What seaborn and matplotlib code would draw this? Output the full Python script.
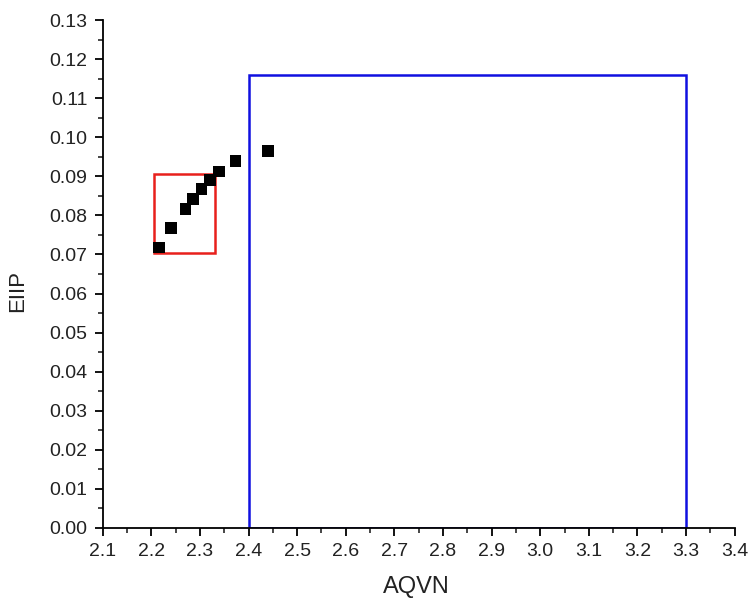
import numpy as np
import pandas as pd
import matplotlib
matplotlib.use("Agg")
import matplotlib.pyplot as plt
from matplotlib.patches import Rectangle
from matplotlib.ticker import MultipleLocator
import seaborn as sns

# data
aqvn = [2.216, 2.240, 2.270, 2.286, 2.303, 2.321, 2.339, 2.373, 2.440]
eiip = [0.0718, 0.0768, 0.0816, 0.0842, 0.0867, 0.0891, 0.0912, 0.0939, 0.0964]

# boxes: (x0, y0, x1, y1)
red_box = (2.205, 0.0705, 2.33, 0.0905)
blue_box = (2.4, 0.0, 3.3, 0.116)

df = pd.DataFrame({"AQVN": aqvn, "EIIP": eiip})

sns.set_style("ticks")
plt.rcParams['font.family'] = ['Liberation Sans', 'DejaVu Sans']

fig = plt.figure(figsize=(7.52, 6.01), dpi=100)
ax = fig.add_axes([0.1366, 0.1215, 0.8404, 0.8452])

# boxes
for (x0, y0, x1, y1), col in [(red_box, "#e8201c"), (blue_box, "#1010e0")]:
    ax.add_patch(Rectangle((x0, y0), x1 - x0, y1 - y0, fill=False,
                           edgecolor=col, linewidth=1.8, zorder=2))

sns.scatterplot(data=df, x="AQVN", y="EIIP", marker="s", color="black",
                s=70, edgecolor="none", ax=ax, zorder=3)

ax.set_xlim(2.1, 3.4)
ax.set_ylim(0, 0.13)
ax.xaxis.set_major_locator(MultipleLocator(0.1))
ax.xaxis.set_minor_locator(MultipleLocator(0.05))
ax.yaxis.set_major_locator(MultipleLocator(0.01))
ax.yaxis.set_minor_locator(MultipleLocator(0.005))
ax.set_xticklabels([f"{v:.1f}" for v in ax.get_xticks()])
ax.set_yticklabels([f"{v:.2f}" for v in ax.get_yticks()])

ax.tick_params(which="major", direction="out", length=6, width=1.3,
               labelsize=14, color="black", labelcolor="#222222", pad=5)
ax.tick_params(which="minor", direction="out", length=3.5, width=1.2)
for s in ["left", "bottom"]:
    ax.spines[s].set_linewidth(1.3)
    ax.spines[s].set_color("black")
sns.despine(ax=ax)

ax.set_xlabel("AQVN", fontsize=17, color="#222222")
ax.set_ylabel("EIIP", fontsize=16, color="#222222")
ax.xaxis.set_label_coords(0.497, -0.094)
ax.yaxis.set_label_coords(-0.118, 0.466)

fig.savefig("out.png", dpi=100)
